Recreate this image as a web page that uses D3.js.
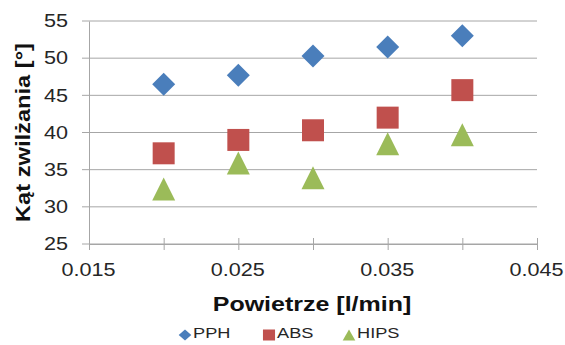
<!DOCTYPE html>
<html>
<head>
<meta charset="utf-8">
<script src="https://cdn.jsdelivr.net/npm/d3@7"></script>
<style>
body { margin: 0; background: #fff; }
svg { font-family: 'Liberation Sans', Arial, sans-serif; display: block; }
</style>
</head>
<body>
<svg></svg>
<script>
const airFlow = [0.020, 0.025, 0.030, 0.035, 0.040];
const pph = [46.5, 47.7, 50.3, 51.5, 53.0];
const abs = [37.2, 39.0, 40.3, 42.0, 45.7];
const hips = [32.4, 35.9, 33.9, 38.5, 39.7];
const seriesNames = ['PPH', 'ABS', 'HIPS'];
const xTicks = [0.015, 0.025, 0.035, 0.045];
const yTicks = [25, 30, 35, 40, 45, 50, 55];

const width = 565;
const height = 345;

const margin = {
	top: 21,
	right: 28,
	bottom: 101,
	left: 89
}

const innerWidth = width - margin.left - margin.right;
const innerHeight = height - margin.top - margin.bottom;

// the original picture is a bit stretched sideways
const stretch = 1.2;

const colors = ['#4a7ebb', '#c0504d', '#9bbb59'];
const textColor = '#262626';

const svg = d3.select('svg')
	.attr('width', width)
	.attr('height', height)

const g = svg.append('g')
	.attr('transform', `translate(${margin.left}, ${margin.top})`);

const xScale = d3.scaleLinear()
	.domain([0.015, 0.045])
	.range([0, innerWidth])

const yScale = d3.scaleLinear()
	.domain([25, 55])
	.range([innerHeight, 0])

// marker paths: diamond, square, triangle
const marker = (i, s) => {
	if (i === 0) return `M0,${-s / 2}L${s / 2},0L0,${s / 2}L${-s / 2},0Z`;
	if (i === 1) return `M${-s / 2},${-s / 2}h${s}v${s}h${-s}Z`;
	return `M0,${-s / 2}L${s / 2},${s / 2}L${-s / 2},${s / 2}Z`;
}

// gridlines
g.selectAll('.grid')
	.data(yTicks)
	.enter()
	.append('line')
	.attr('x1', -7)
	.attr('x2', innerWidth)
	.attr('y1', d => yScale(d))
	.attr('y2', d => yScale(d))
	.attr('stroke', '#a6a6a6')
	.attr('stroke-width', 1)

// y axis
const yAxis = d3.axisLeft(yScale)
	.tickValues(yTicks)
	.tickSize(0)

g.append('g')
	.call(yAxis)
	.call(a => a.select('.domain').attr('stroke', '#a6a6a6'))
	.selectAll('text')
	.attr('x', 0)
	.attr('transform', `translate(-21, 0) scale(${stretch}, 1)`)
	.attr('font-size', 18)
	.attr('fill', textColor)

// x axis, ticks crossing the line
const xAxis = d3.axisBottom(xScale)
	.tickValues(d3.range(0.015, 0.0451, 0.005))
	.tickSize(6)
	.tickFormat(d3.format('.3f'))

const xg = g.append('g')
	.attr('transform', `translate(0, ${innerHeight})`)
	.call(xAxis)

xg.select('.domain').attr('stroke', '#a6a6a6')
xg.selectAll('.tick line')
	.attr('y1', -6)
	.attr('stroke', '#a6a6a6')
xg.selectAll('.tick text')
	.filter(d => !xTicks.some(t => Math.abs(t - d) < 1e-9))
	.remove()
xg.selectAll('.tick text')
	.attr('y', 0)
	.attr('dy', 0)
	.attr('transform', `translate(-1, 31.5) scale(${stretch}, 1)`)
	.attr('font-size', 18)
	.attr('fill', textColor)

// axis titles
svg.append('text')
	.text('Powietrze [l/min]')
	.attr('transform', `translate(312, 311) scale(1.25, 1)`)
	.attr('text-anchor', 'middle')
	.attr('font-weight', 'bold')
	.attr('font-size', 20)
	.attr('fill', '#111')

svg.append('text')
	.text('Kąt zwilżania [°]')
	.attr('transform', 'translate(30, 132.5) rotate(-90)')
	.attr('text-anchor', 'middle')
	.attr('font-weight', 'bold')
	.attr('font-size', 21)
	.attr('textLength', 179)
	.attr('lengthAdjust', 'spacingAndGlyphs')
	.attr('fill', '#111')

// points
const series = [pph, abs, hips];
const markerSize = [23, 22, 23];

series.forEach((values, i) => {
	g.selectAll(`.pt${i}`)
		.data(values)
		.enter()
		.append('path')
		.attr('d', marker(i, markerSize[i]))
		.attr('transform', (d, j) => `translate(${xScale(airFlow[j])}, ${yScale(d)})`)
		.style('fill', colors[i])
})

// legend
const legendX = [185, 269, 349];

const legend = svg.append('g')
	.attr('transform', 'translate(0, 335)')

seriesNames.forEach((name, i) => {
	legend.append('path')
		.attr('d', marker(i, 11))
		.attr('transform', `translate(${legendX[i]}, 0) scale(${i === 1 ? 1.1 : 1.15}, 1)`)
		.style('fill', colors[i])

	legend.append('text')
		.text(name)
		.attr('transform', `translate(${legendX[i] + 8}, 2.5) scale(1.3, 1)`)
		.attr('font-size', 14)
		.attr('fill', textColor)
})
</script>
</body>
</html>
